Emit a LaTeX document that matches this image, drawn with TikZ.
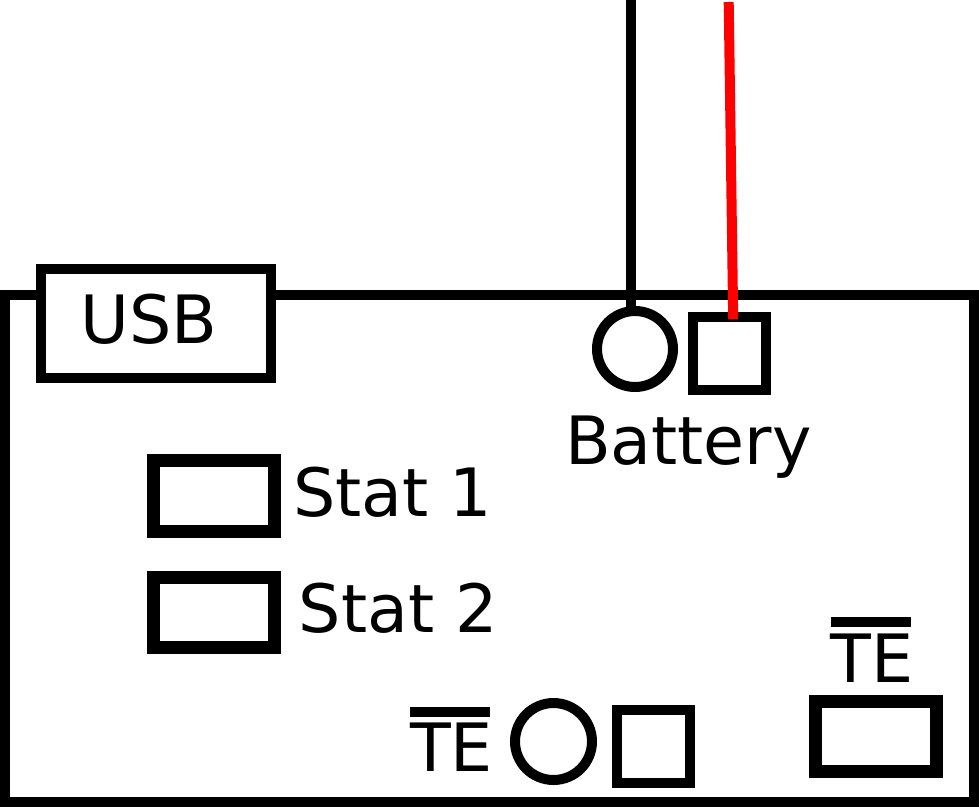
\documentclass[tikz,border=0pt]{standalone}
\usepackage{fontspec}
\setmainfont{DejaVu Sans}
\tikzset{
  lab/.style={font=\fontsize{50}{50}\selectfont,inner sep=0pt,text=black},
  thin box/.style={draw=black,line width=7.5pt,fill=white,rectangle,inner sep=0pt},
  thick box/.style={draw=black,line width=9.75pt,fill=white,rectangle,inner sep=0pt,minimum width=90.4pt,minimum height=52.9pt},
  ring/.style={draw=black,line width=7.5pt,circle,inner sep=0pt},
  wire/.style={line width=7.5pt},
  overbar/.style={line width=7.2pt},
}
\begin{document}
\begin{tikzpicture}[x=0.75pt,y=-0.75pt]
\useasboundingbox (0,0) rectangle (979,807);
\coordinate (blackTop) at (631,0);
\coordinate (redTop) at (728.7,2);
\draw[line width=7.5pt,fill=white] (5,295) rectangle (974,802);
\node[thin box,minimum width=172.5pt,minimum height=82pt] (usbbox) at (156,323.5) {};
\node[lab,anchor=base] (usb) at (149,343) {USB};
\node[ring,minimum size=57pt] (c1) at (635,349) {};
\node[thin box,minimum size=54.75pt] (s1) at (729.5,353.5) {};
\draw[wire] (blackTop) -- ([yshift=-6.75pt]c1.north -| blackTop);
\draw[wire,red] (redTop) -- ([yshift=-5.25pt]s1.north -| 733.2,0);
\node[lab,anchor=base] (bat) at (688.5,464.5) {Battery};
\node[thick box] (stat1) at (214,496) {};
\node[thick box] (stat2) at (214,612.7) {};
\node[lab,anchor=base west] (st1) at (293,516.5) {Stat 1};
\node[lab,anchor=base west] (st2) at (298.5,632.5) {Stat 2};
\node[lab,anchor=base] (te1) at (451.5,771.5) {TE};
\coordinate (b1a) at (410,711.7);
\coordinate (b1b) at (490,711.7);
\draw[overbar] (b1a) -- (b1b);
\node[ring,minimum size=57.75pt] (c2) at (553.5,741.5) {};
\node[thin box,minimum size=54.75pt] (s2) at (653.5,746) {};
\node[lab,anchor=base] (te2) at (872,682.7) {TE};
\coordinate (b2a) at (831,622);
\coordinate (b2b) at (911,622);
\draw[overbar] (b2a) -- (b2b);
\node[thick box] (tebox) at (876,736.7) {};
\end{tikzpicture}
\end{document}
